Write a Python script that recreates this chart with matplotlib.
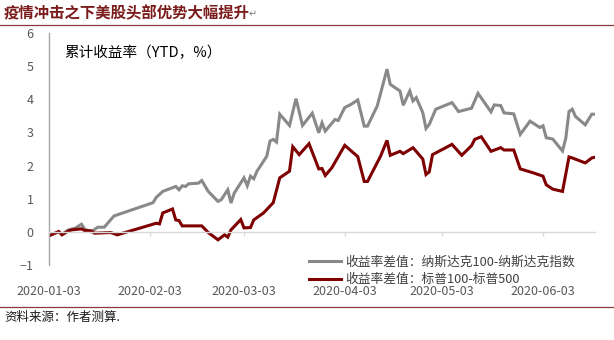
import pandas as pd
import matplotlib
matplotlib.use('Agg')
import matplotlib.pyplot as plt
import matplotlib.dates as mdates
from matplotlib.lines import Line2D

plt.rcParams['font.family'] = ['Noto Sans CJK SC', 'DejaVu Sans']

# 收益率差值：纳斯达克100-纳斯达克指数
ndx_dates = [
    '2020-01-03', '2020-01-06', '2020-01-07', '2020-01-09', '2020-01-11', '2020-01-13',
    '2020-01-14', '2020-01-16', '2020-01-18', '2020-01-20', '2020-01-23', '2020-02-04',
    '2020-02-05', '2020-02-07', '2020-02-11', '2020-02-12', '2020-02-13', '2020-02-14',
    '2020-02-15', '2020-02-18', '2020-02-19', '2020-02-21', '2020-02-24', '2020-02-25',
    '2020-02-27', '2020-02-28', '2020-02-29', '2020-03-03', '2020-03-04', '2020-03-05',
    '2020-03-06', '2020-03-07', '2020-03-09', '2020-03-10', '2020-03-11', '2020-03-12',
    '2020-03-13', '2020-03-14', '2020-03-17', '2020-03-19', '2020-03-21', '2020-03-24',
    '2020-03-26', '2020-03-27', '2020-03-28', '2020-03-31', '2020-04-01', '2020-04-03',
    '2020-04-05', '2020-04-07', '2020-04-09', '2020-04-10', '2020-04-13', '2020-04-16',
    '2020-04-17', '2020-04-20', '2020-04-21', '2020-04-23', '2020-04-24', '2020-04-25',
    '2020-04-27', '2020-04-28', '2020-04-29', '2020-05-01', '2020-05-06', '2020-05-08',
    '2020-05-12', '2020-05-14', '2020-05-18', '2020-05-19', '2020-05-21', '2020-05-22',
    '2020-05-25', '2020-05-27', '2020-05-30', '2020-06-02', '2020-06-03', '2020-06-04',
    '2020-06-06', '2020-06-09', '2020-06-10', '2020-06-11', '2020-06-12', '2020-06-13',
    '2020-06-16', '2020-06-18', '2020-06-19',
]
ndx_values = [
    -0.10, 0.00, -0.07, 0.06, 0.11, 0.23,
    0.08, 0.00, 0.14, 0.14, 0.48, 0.88,
    1.04, 1.22, 1.37, 1.27, 1.39, 1.37,
    1.45, 1.47, 1.55, 1.22, 0.92, 0.97,
    1.27, 0.87, 1.17, 1.63, 1.39, 1.68,
    1.60, 1.83, 2.13, 2.28, 2.74, 2.79,
    2.71, 3.55, 3.21, 4.02, 3.21, 3.58,
    2.99, 3.29, 3.04, 3.39, 3.36, 3.75,
    3.85, 3.98, 3.19, 3.19, 3.80, 4.91,
    4.45, 4.25, 3.82, 4.25, 3.95, 4.05,
    3.60, 3.12, 3.24, 3.70, 3.90, 3.63,
    3.73, 4.18, 3.62, 3.83, 3.81, 3.59,
    3.56, 2.94, 3.34, 3.15, 3.20, 2.84,
    2.80, 2.44, 2.82, 3.63, 3.70, 3.48,
    3.23, 3.55, 3.55,
]

# 收益率差值：标普100-标普500
spx_dates = [
    '2020-01-03', '2020-01-06', '2020-01-07', '2020-01-09', '2020-01-10', '2020-01-13',
    '2020-01-14', '2020-01-16', '2020-01-17', '2020-01-22', '2020-01-24', '2020-02-05',
    '2020-02-06', '2020-02-07', '2020-02-10', '2020-02-11', '2020-02-12', '2020-02-13',
    '2020-02-19', '2020-02-21', '2020-02-24', '2020-02-26', '2020-02-27', '2020-02-28',
    '2020-03-02', '2020-03-03', '2020-03-05', '2020-03-06', '2020-03-09', '2020-03-12',
    '2020-03-14', '2020-03-17', '2020-03-18', '2020-03-20', '2020-03-23', '2020-03-26',
    '2020-03-27', '2020-03-28', '2020-03-30', '2020-04-03', '2020-04-07', '2020-04-09',
    '2020-04-10', '2020-04-14', '2020-04-16', '2020-04-17', '2020-04-20', '2020-04-21',
    '2020-04-24', '2020-04-27', '2020-04-28', '2020-04-29', '2020-04-30', '2020-05-06',
    '2020-05-09', '2020-05-12', '2020-05-13', '2020-05-15', '2020-05-18', '2020-05-21',
    '2020-05-22', '2020-05-25', '2020-05-27', '2020-05-31', '2020-06-03', '2020-06-04',
    '2020-06-06', '2020-06-09', '2020-06-11', '2020-06-12', '2020-06-16', '2020-06-18',
    '2020-06-19',
]
spx_values = [
    -0.12, 0.01, -0.09, 0.03, 0.06, 0.09,
    0.04, 0.03, -0.04, -0.02, -0.09, 0.26,
    0.24, 0.57, 0.69, 0.36, 0.34, 0.18,
    0.18, -0.02, -0.24, -0.09, -0.16, 0.06,
    0.37, 0.12, 0.13, 0.36, 0.57, 0.88,
    1.63, 1.83, 2.57, 2.33, 2.66, 1.90,
    1.91, 1.70, 1.93, 2.61, 2.27, 1.52,
    1.52, 2.28, 2.76, 2.31, 2.43, 2.36,
    2.54, 2.20, 1.73, 1.81, 2.33, 2.64,
    2.31, 2.60, 2.79, 2.87, 2.43, 2.54,
    2.47, 2.47, 1.90, 1.78, 1.68, 1.42,
    1.29, 1.22, 2.26, 2.23, 2.08, 2.23,
    2.25,
]

month_ticks = ['2020-01-03', '2020-02-03', '2020-03-03', '2020-04-03', '2020-05-03', '2020-06-03']
labels = ['收益率差值：纳斯达克100-纳斯达克指数', '收益率差值：标普100-标普500']

fig = plt.figure(figsize=(6.14, 3.40), dpi=100)
ax = fig.add_axes([49/614, 75/340, 546/614, 232/340])

ax.plot(pd.to_datetime(ndx_dates), ndx_values, color='#898989', lw=2.2, label=labels[0], solid_joinstyle='miter')
ax.plot(pd.to_datetime(spx_dates), spx_values, color='#7f0000', lw=2.2, label=labels[1], solid_joinstyle='miter')

start = pd.Timestamp('2020-01-03')
ax.set_xlim(start, start + pd.Timedelta(days=168))
ax.set_ylim(-1, 6)
ax.set_yticks(range(-1, 7))

# eixos
for s in ['top', 'right']:
    ax.spines[s].set_visible(False)
ax.spines['left'].set_color('#a6a6a6')
ax.spines['left'].set_linewidth(1.0)
ax.spines['bottom'].set_position(('data', 0))
ax.spines['bottom'].set_color('#d9d9d9')
ax.spines['bottom'].set_linewidth(1.0)

ax.set_xticks(pd.to_datetime(month_ticks))
ax.xaxis.set_major_formatter(mdates.DateFormatter('%Y-%m-%d'))
ax.tick_params(axis='x', direction='out', length=3, width=1, color='#d9d9d9',
               pad=35, labelsize=9, labelcolor='#595959')
ax.tick_params(axis='y', length=0, pad=11, labelsize=9, labelcolor='#595959')

ax.text(64/614, 1 - 53/340, '累计收益率（YTD，%）', transform=fig.transFigure,
        fontsize=10.5, va='center', ha='left', color='#000000')

ax.legend(loc='upper left', bbox_to_anchor=(303/614, 1 - 249/340), bbox_transform=fig.transFigure,
          frameon=False, fontsize=9.2, handlelength=2.45, handletextpad=0.33,
          labelspacing=0.38, borderpad=0, labelcolor='#404040')

# título e fonte
fig.text(4/614, 1 - 13/340, '疫情冲击之下美股头部优势大幅提升', fontsize=11.1, weight='bold',
         color='#7b1c1c', va='center', ha='left')
fig.text(249/614, 1 - 14/340, '↵', fontsize=7, color='#808080', va='center', ha='left')
fig.add_artist(Line2D([0, 1], [1 - 24.5/340, 1 - 24.5/340], transform=fig.transFigure, color='#8b3a3a', lw=0.9))
fig.add_artist(Line2D([0, 1], [1 - 306.5/340, 1 - 306.5/340], transform=fig.transFigure, color='#8b3a3a', lw=0.9))
fig.text(4/614, 1 - 317/340, '资料来源：作者测算.', fontsize=9, style='italic',
         color='#1a1a1a', va='center', ha='left')

fig.savefig('out.png', dpi=100)
